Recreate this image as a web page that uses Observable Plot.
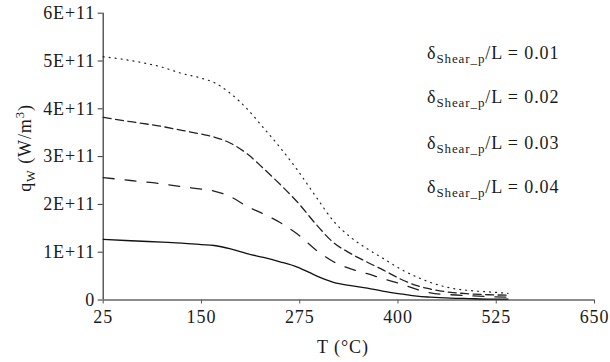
<!DOCTYPE html>
<html>
<head>
<meta charset="utf-8">
<script src="https://cdn.jsdelivr.net/npm/d3@7"></script>
<script src="https://cdn.jsdelivr.net/npm/@observablehq/plot@0.6"></script>
<style>
  html, body { margin: 0; padding: 0; background: #fff; }
  #chart svg { display: block; }
</style>
</head>
<body>
<div id="chart"></div>
<script>
// Temperatures (°C)
const temps = [25, 60, 100, 125, 150, 166, 187, 208, 229, 250, 272, 297, 318, 340, 361, 382, 403, 424, 441, 467, 490, 515, 540];
// Heat generation q_W (units of 1E+11 W/m^3)
const ratio001 = [5.09, 5.01, 4.87, 4.74, 4.64, 4.55, 4.32, 4.00, 3.60, 3.19, 2.72, 2.13, 1.65, 1.31, 1.07, 0.86, 0.65, 0.48, 0.37, 0.25, 0.20, 0.17, 0.14];
const ratio002 = [3.82, 3.73, 3.63, 3.55, 3.47, 3.41, 3.28, 3.06, 2.75, 2.42, 2.05, 1.56, 1.20, 0.97, 0.79, 0.62, 0.44, 0.30, 0.23, 0.16, 0.13, 0.11, 0.10];
const ratio003 = [2.56, 2.50, 2.43, 2.37, 2.32, 2.28, 2.16, 1.96, 1.80, 1.62, 1.38, 1.03, 0.80, 0.65, 0.55, 0.44, 0.34, 0.22, 0.15, 0.11, 0.09, 0.07, 0.06];
const ratio004 = [1.27, 1.24, 1.21, 1.19, 1.16, 1.14, 1.07, 0.97, 0.89, 0.80, 0.69, 0.50, 0.37, 0.30, 0.25, 0.18, 0.13, 0.08, 0.06, 0.04, 0.03, 0.02, 0.02];
const legendRatios = ["0.01", "0.02", "0.03", "0.04"];
const xTicks = [25, 150, 275, 400, 525, 650];
const yTicks = [0, 1e11, 2e11, 3e11, 4e11, 5e11, 6e11];
const yTickLabels = ["0", "1E+11", "2E+11", "3E+11", "4E+11", "5E+11", "6E+11"];

const allSeries = [ratio001, ratio002, ratio003, ratio004];
const dashes = ["1,5", "8,4.5", "11,11", null];
const tables = allSeries.map((vals, k) => temps.map((t, i) => ({T: t, q: vals[i] * 1e11, s: legendRatios[k]})));

const fmtY = d => yTickLabels[yTicks.indexOf(d)];
const font = "'Liberation Serif', 'DejaVu Serif', serif";
const fs = "18px";
const ls = "0.9px";

const lineMarks = tables.map((tbl, k) => Plot.line(tbl, {
  x: "T", y: "q", curve: "monotone-x",
  stroke: k === 3 ? "#111" : "#222",
  strokeWidth: k === 0 ? 1.2 : 1.3,
  strokeDasharray: dashes[k] || undefined
}));

const chart = Plot.plot({
  width: 610, height: 362,
  marginLeft: 102.7, marginRight: 16, marginTop: 12.7, marginBottom: 62.5,
  style: {fontFamily: font, fontSize: fs, letterSpacing: ls, color: "#1a1a1a", background: "#fff"},
  x: {domain: [25, 650], label: null},
  y: {domain: [0, 6e11], label: null},
  marks: [
    Plot.axisX({ticks: xTicks, tickSize: 4, tickPadding: 6.5, stroke: "#555", label: null}),
    Plot.axisY({ticks: yTicks, tickSize: 5, tickPadding: 3, tickFormat: fmtY, stroke: "#333", label: null}),
    Plot.ruleX([25], {y1: 0, y2: 6e11, stroke: "#333", strokeWidth: 1.2}),
    Plot.ruleY([0], {stroke: "#666", strokeWidth: 1.5}),
    ...lineMarks
  ]
});
document.getElementById("chart").appendChild(chart);

const svg = d3.select(chart);
// x-axis title
svg.append("text")
  .attr("x", 343).attr("y", 353)
  .attr("text-anchor", "middle")
  .style("font-family", font).style("font-size", fs).style("letter-spacing", ls).attr("fill", "#1a1a1a")
  .text("T (°C)");

// y-axis title with subscript and superscript
const yl = svg.append("text")
  .attr("transform", "translate(31,148) rotate(-90)")
  .attr("text-anchor", "middle")
  .style("font-family", font).style("font-size", fs).style("letter-spacing", ls).attr("fill", "#1a1a1a");
yl.append("tspan").text("q");
yl.append("tspan").attr("dy", 4).style("font-size", "12.5px").text("W");
yl.append("tspan").attr("dy", -4).text(" (W/m");
yl.append("tspan").attr("dy", -7).style("font-size", "12.5px").text("3");
yl.append("tspan").attr("dy", 7).text(")");

// legend texts
const baselines = [59.3, 103.3, 149.3, 193.3];
legendRatios.forEach((r, i) => {
  const t = svg.append("text")
    .attr("x", 427).attr("y", baselines[i])
    .attr("text-anchor", "start")
    .style("font-family", font).style("font-size", fs).style("letter-spacing", ls).attr("fill", "#1a1a1a");
  t.append("tspan").text("δ");
  t.append("tspan").attr("dy", 4).style("font-size", "13px").text("Shear_p");
  t.append("tspan").attr("dy", -4).text("/L = " + r);
});
</script>
</body>
</html>
